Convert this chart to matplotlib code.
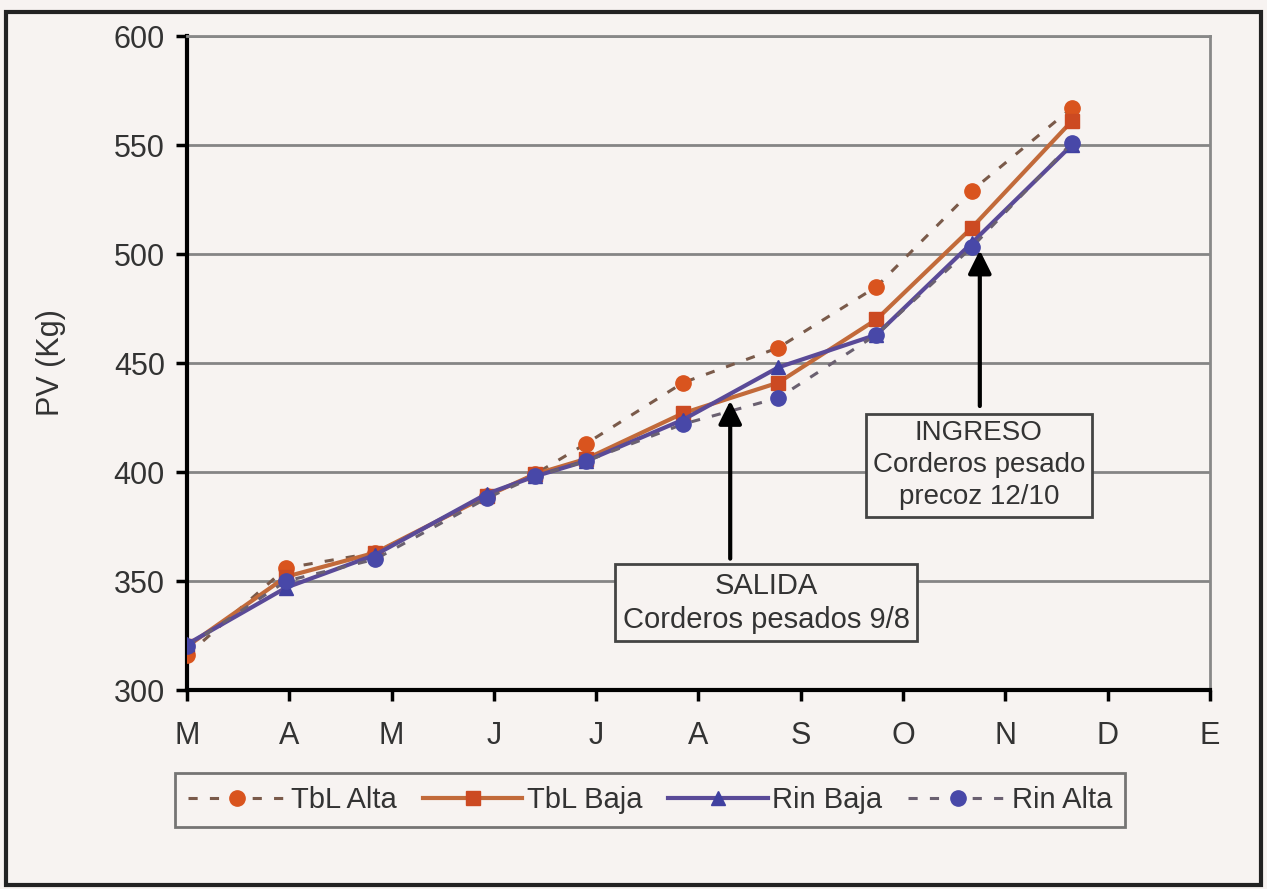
#!/usr/bin/env python3
import matplotlib
matplotlib.use('Agg')
import matplotlib.pyplot as plt
from matplotlib.patches import Rectangle

# fechas de pesada (en meses desde marzo) y peso vivo por tratamiento
meses = ['M', 'A', 'M', 'J', 'J', 'A', 'S', 'O', 'N', 'D', 'E']
pesadas = [0, 0.97, 1.84, 2.93, 3.4, 3.9, 4.85, 5.78, 6.74, 7.67, 8.65]
tbl_alta = [316, 356, 363, 389, 399, 413, 441, 457, 485, 529, 567]
tbl_baja = [320, 352, 363, 389, 399, 406, 427, 441, 470, 512, 561]
rin_baja = [321, 347, 362, 390, 398, 405, 424, 448, 463, 505, 550]
rin_alta = [320, 350, 360, 388, 398, 405, 422, 434, 463, 503, 551]

plt.rcParams['font.family'] = ['Liberation Sans', 'DejaVu Sans']
bg = '#f7f3f1'

fig = plt.figure(figsize=(12.67, 8.89), dpi=100, facecolor=bg)
ax = fig.add_axes([0.1476, 0.2238, 0.8074, 0.7357], facecolor=bg)

ax.plot(pesadas, tbl_alta, ls=(0, (3, 4)), lw=2.2, color='#7a5a4a', marker='o', ms=11,
        mfc='#d9541e', mec='#d9541e', label='TbL Alta', zorder=3)
ax.plot(pesadas, tbl_baja, ls='-', lw=3, color='#c26a3a', marker='s', ms=10,
        mfc='#cc4a22', mec='#cc4a22', label='TbL Baja', zorder=3)
ax.plot(pesadas, rin_baja, ls='-', lw=3, color='#5a4a98', marker='^', ms=10,
        mfc='#4040a0', mec='#4040a0', label='Rin Baja', zorder=3)
ax.plot(pesadas, rin_alta, ls=(0, (3, 4)), lw=2.2, color='#6a6070', marker='o', ms=11,
        mfc='#4848a8', mec='#4848a8', label='Rin Alta', zorder=3)

ax.set_xlim(0, 10)
ax.set_ylim(300, 600)
ax.set_xticks(range(len(meses)))
ax.set_xticklabels(meses)
ax.set_yticks(range(300, 601, 50))
ax.yaxis.grid(True, color='#858585', lw=2)
ax.set_axisbelow(True)
ax.tick_params(labelsize=22, length=8, width=2.5, colors='black', labelcolor='#333333')
ax.tick_params(axis='x', pad=14)
ax.tick_params(axis='y', pad=8)
for s in ['left', 'bottom']:
    ax.spines[s].set_linewidth(3)
for s in ['top', 'right']:
    ax.spines[s].set_color('#888888')
    ax.spines[s].set_linewidth(2)
ax.set_ylabel('PV (Kg)', fontsize=22, color='#333333', labelpad=34)

# flechas y cuadros de texto
ax.annotate('', xy=(5.31, 434), xytext=(5.31, 359),
            arrowprops=dict(arrowstyle='-|>', color='black', lw=3, mutation_scale=35))
ax.text(5.66, 340, 'SALIDA\nCorderos pesados 9/8', ha='center', va='center', fontsize=21,
        color='#333333', linespacing=1.3,
        bbox=dict(boxstyle='square,pad=0.25', fc=bg, ec='#444444', lw=2))
ax.annotate('', xy=(7.75, 503), xytext=(7.75, 429),
            arrowprops=dict(arrowstyle='-|>', color='black', lw=3, mutation_scale=35))
ax.text(7.74, 403, 'INGRESO\nCorderos pesado\nprecoz 12/10', ha='center', va='center',
        fontsize=20, color='#333333', linespacing=1.3,
        bbox=dict(boxstyle='square,pad=0.25', fc=bg, ec='#444444', lw=2))

leg = fig.legend(loc='center', bbox_to_anchor=(0.513, 0.1), ncol=4, fontsize=21,
                 frameon=True, fancybox=False, edgecolor='#555555', facecolor=bg,
                 handlelength=3.4, columnspacing=0.9, handletextpad=0.15, borderpad=0.45)
leg.get_frame().set_linewidth(2)
for t in leg.get_texts():
    t.set_color('#333333')

# marco exterior
fig.patches.append(Rectangle((0.005, 0.005), 0.99, 0.982, transform=fig.transFigure,
                             fill=False, ec='#222222', lw=3))

fig.savefig('out.png', dpi=100, facecolor=bg)
